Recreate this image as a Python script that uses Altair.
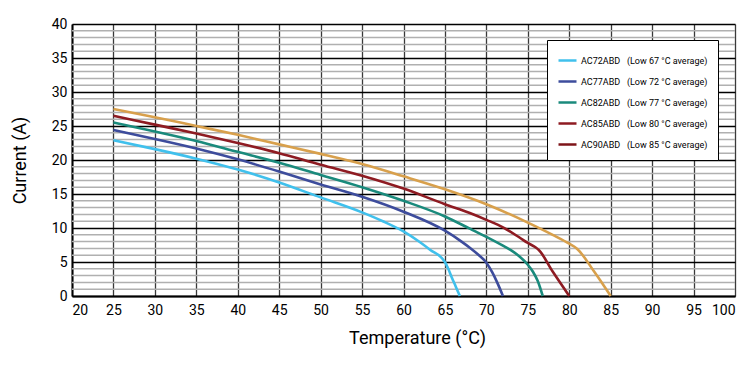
import altair as alt
import pandas as pd

models = ["AC72ABD", "AC77ABD", "AC82ABD", "AC85ABD", "AC90ABD"]
averages = [67, 72, 77, 80, 85]

t72 = [25, 30, 35, 40, 45, 50, 55, 57.5, 60, 62, 63.2, 65, 65.4, 65.8, 66.3, 66.8]
i72 = [22.9, 21.6, 20.2, 18.6, 16.7, 14.5, 12.3, 11.0, 9.5, 7.9, 6.8, 5.0, 4.0, 2.8, 1.4, 0]

t77 = [25, 30, 35, 40, 45, 50, 55, 60, 65, 67, 68, 69, 70, 70.7, 71.3, 72.0]
i77 = [24.4, 23.1, 21.7, 20.1, 18.3, 16.4, 14.6, 12.4, 9.6, 8.0, 7.1, 6.1, 4.9, 3.5, 2.0, 0]

t82 = [25, 30, 35, 40, 45, 50, 55, 60, 65, 68, 70, 72, 73, 74, 75, 75.6, 76.2, 76.8]
i82 = [25.5, 24.2, 22.8, 21.2, 19.6, 17.8, 16.0, 14.0, 11.7, 9.9, 8.7, 7.4, 6.7, 5.8, 4.6, 3.6, 2.2, 0]

t85 = [25, 30, 35, 40, 45, 50, 55, 60, 65, 68, 70, 72, 74, 75, 76, 76.3, 78, 80]
i85 = [26.5, 25.2, 23.9, 22.5, 21.0, 19.3, 17.7, 15.8, 13.5, 12.2, 11.2, 10.1, 8.6, 7.8, 7.1, 6.8, 3.6, 0]

t90 = [25, 30, 35, 40, 45, 50, 55, 60, 65, 70, 75, 78, 80, 80.9, 83, 85]
i90 = [27.5, 26.3, 25.0, 23.7, 22.3, 20.9, 19.4, 17.6, 15.7, 13.5, 10.8, 9.0, 7.7, 7.0, 3.6, 0]

temps = [t72, t77, t82, t85, t90]
currents = [i72, i77, i82, i85, i90]

x_ticks = list(range(20, 101, 5))
y_major = list(range(0, 41, 5))
y_minor = [v for v in range(0, 41) if v % 5 != 0]

curve_colors = ["#40C0EC", "#3D4C9C", "#1A8A7C", "#8E1B22", "#D8A04C"]
legend_colors = ["#40C0EC", "#3D4C9C", "#1A8A7C", "#8E1B22", "#7E1419"]

FONT = "Roboto"

labels = [f"{m}\u00a0\u00a0\u00a0(Low {a} °C average)" for m, a in zip(models, averages)]
rows = []
for lab, ts, cs in zip(labels, temps, currents):
    for t, c in zip(ts, cs):
        rows.append({"label": lab, "temp": t, "current": c})
df = pd.DataFrame(rows)
minor_df = pd.DataFrame({"current": y_minor})

x_enc = alt.X(
    "temp:Q",
    scale=alt.Scale(domain=[20, 100], nice=False, zero=False),
    axis=alt.Axis(
        values=x_ticks, grid=True, gridColor="#3a3a3a", gridWidth=1.3,
        ticks=False, domainColor="black", domainWidth=2, labelOverlap=False,
        labelFont=FONT, labelFontSize=14, labelColor="black", labelPadding=7,
        title="Temperature (°C)", titleFont=FONT, titleFontSize=18,
        titleFontWeight="normal", titleColor="black", titlePadding=12,
        titleX=345,
    ),
)
y_axis = alt.Axis(
    values=y_major, grid=True, gridColor="black", gridWidth=1.3,
    ticks=False, domainColor="black", domainWidth=2, labelOverlap=False,
    labelFont=FONT, labelFontSize=14, labelColor="black", labelPadding=5,
    title="Current (A)", titleFont=FONT, titleFontSize=18,
    titleFontWeight="normal", titleColor="black", titlePadding=22,
)
y_scale = alt.Scale(domain=[0, 40], nice=False)
y_enc = alt.Y("current:Q", scale=y_scale, axis=y_axis)

minor = alt.Chart(minor_df).mark_rule(color="#b0b0b0", strokeWidth=1.5).encode(
    y=alt.Y("current:Q", scale=y_scale, axis=y_axis)
)

legend_layer = alt.Chart(df).mark_line(opacity=0).encode(
    x=x_enc, y=y_enc,
    color=alt.Color(
        "label:N",
        scale=alt.Scale(domain=labels, range=legend_colors),
        legend=alt.Legend(
            title=None, orient="none", legendX=475, legendY=16,
            symbolType="stroke", symbolSize=324, symbolStrokeWidth=2.5,
            symbolOpacity=1, labelFont=FONT, labelFontSize=9,
            labelColor="black", rowPadding=5, padding=10,
            strokeColor="black", fillColor="white", labelLimit=300,
            labelOffset=3, cornerRadius=0,
        ),
    ),
)

lines = alt.Chart(df).mark_line(strokeWidth=2.6, interpolate="monotone").encode(
    x=x_enc, y=y_enc,
    color=alt.Color(
        "label:N",
        scale=alt.Scale(domain=labels, range=curve_colors),
        legend=None,
    ),
)

chart = (
    alt.layer(minor, legend_layer, lines)
    .resolve_scale(color="independent")
    .properties(
        width=663, height=272,
        autosize=alt.AutoSizeParams(type="none"),
        padding={"left": 64, "top": 16, "right": 13, "bottom": 60},
        background="white",
    )
    .configure_view(stroke=None)
)

chart.save("out.html", embed_options={"renderer": "svg", "actions": False})
